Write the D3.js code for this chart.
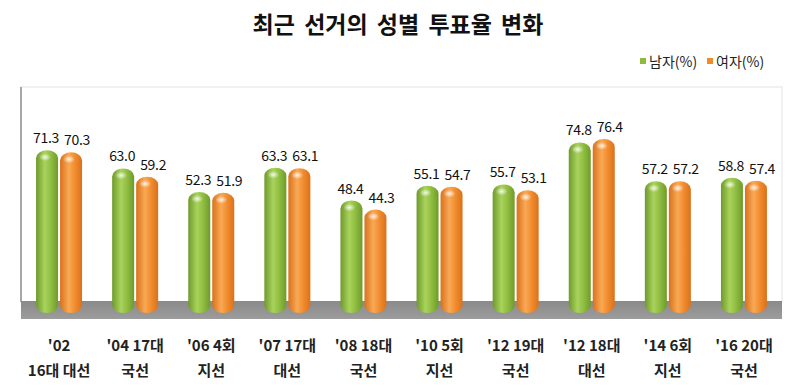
<!DOCTYPE html>
<html>
<head>
<meta charset="utf-8">
<script src="https://cdn.jsdelivr.net/npm/d3@7"></script>
<style>
body { margin: 0; background: #fff; }
svg text { font-family: "Noto Sans CJK KR", "Noto Sans", sans-serif; }
</style>
</head>
<body>
<div class="chart"></div>
<script>
// data
var categories = ["'02", "'04 17대", "'06 4회", "'07 17대", "'08 18대", "'10 5회", "'12 19대", "'12 18대", "'14 6회", "'16 20대"];
var subLabels = ["16대 대선", "국선", "지선", "대선", "국선", "지선", "국선", "대선", "지선", "국선"];
var male = [71.3, 63.0, 52.3, 63.3, 48.4, 55.1, 55.7, 74.8, 57.2, 58.8];
var female = [70.3, 59.2, 51.9, 63.1, 44.3, 54.7, 53.1, 76.4, 57.2, 57.4];
var seriesNames = ["남자(%)", "여자(%)"];

var w = 800;
var h = 389;

var svg = d3.select(".chart")
    .append("svg")
    .attr("width", w)
    .attr("height", h);

var defs = svg.append("defs");

var makeGrad = function(id, dark, mid, light) {
    var g = defs.append("linearGradient")
        .attr("id", id)
        .attr("x1", "0%").attr("x2", "100%")
        .attr("y1", "0%").attr("y2", "0%");
    g.append("stop").attr("offset", "0%").attr("stop-color", dark);
    g.append("stop").attr("offset", "40%").attr("stop-color", light);
    g.append("stop").attr("offset", "70%").attr("stop-color", mid);
    g.append("stop").attr("offset", "100%").attr("stop-color", dark);
};
makeGrad("gGreen", "#6f9a2c", "#8dbb3f", "#a9d35c");
makeGrad("gOrange", "#d9711c", "#f08a2c", "#f9a955");

var floorGrad = defs.append("linearGradient")
    .attr("id", "gFloor")
    .attr("x1", "0%").attr("x2", "0%")
    .attr("y1", "0%").attr("y2", "100%");
floorGrad.append("stop").attr("offset", "0%").attr("stop-color", "#8a8a8a");
floorGrad.append("stop").attr("offset", "100%").attr("stop-color", "#9c9c9c");

var hl = defs.append("radialGradient").attr("id", "gHi");
hl.append("stop").attr("offset", "0%").attr("stop-color", "#ffffff").attr("stop-opacity", 0.85);
hl.append("stop").attr("offset", "100%").attr("stop-color", "#ffffff").attr("stop-opacity", 0);

var x = d3.scaleBand()
    .domain(categories)
    .range([21, 782]);

var y = d3.scaleLinear()
    .domain([0, 100])
    .range([307, 87]);

// plot frame
svg.append("rect")
    .attr("x", 21).attr("y", 87)
    .attr("width", 761).attr("height", 215)
    .attr("fill", "#fff")
    .attr("stroke", "#e4e4e4");
svg.append("line")
    .attr("x1", 21).attr("x2", 21)
    .attr("y1", 87).attr("y2", 302)
    .attr("stroke", "#a8a8a8").attr("stroke-width", 2);

// floor
svg.append("rect")
    .attr("x", 21).attr("y", 301)
    .attr("width", 761).attr("height", 18)
    .attr("fill", "url(#gFloor)");

// title
svg.append("text")
    .attr("x", 398).attr("y", 33)
    .attr("text-anchor", "middle")
    .attr("font-size", 23)
    .attr("font-weight", "bold")
    .attr("word-spacing", 4)
    .attr("fill", "#111")
    .text("최근 선거의 성별 투표율 변화");

// legend
var legendX = [640, 707];
var legendColor = ["#8dbb3f", "#f08a2c"];
seriesNames.forEach(function(name, i) {
    svg.append("rect")
        .attr("x", legendX[i]).attr("y", 58)
        .attr("width", 6).attr("height", 6)
        .attr("fill", legendColor[i]);
    svg.append("text")
        .attr("x", legendX[i] + 9).attr("y", 67)
        .attr("font-size", 14)
        .attr("fill", "#222")
        .text(name);
});

var barW = 22;
var series = [
    { values: male, grad: "url(#gGreen)", dx: -23, lx: -1 },
    { values: female, grad: "url(#gOrange)", dx: 1, lx: 6 }
];

series.forEach(function(s) {
    var g = svg.append("g");
    g.selectAll("rect.bar")
        .data(s.values)
        .enter()
        .append("rect")
        .attr("class", "bar")
        .attr("x", function(d, i) { return x(categories[i]) + x.bandwidth() / 2 + s.dx; })
        .attr("y", function(d) { return y(d); })
        .attr("width", barW)
        .attr("height", function(d) { return y(0) - y(d) + 6; })
        .attr("rx", 11).attr("ry", 8)
        .attr("fill", s.grad);

    g.selectAll("ellipse")
        .data(s.values)
        .enter()
        .append("ellipse")
        .attr("cx", function(d, i) { return x(categories[i]) + x.bandwidth() / 2 + s.dx + 9; })
        .attr("cy", function(d) { return y(d) + 7; })
        .attr("rx", 6).attr("ry", 4)
        .attr("fill", "url(#gHi)");

    g.selectAll("text")
        .data(s.values)
        .enter()
        .append("text")
        .attr("x", function(d, i) { return x(categories[i]) + x.bandwidth() / 2 + s.dx + barW / 2 + s.lx; })
        .attr("y", function(d) { return y(d) - 7; })
        .attr("text-anchor", "middle")
        .attr("font-size", 14)
        .attr("letter-spacing", -0.3)
        .attr("fill", "#111")
        .text(function(d) { return d.toFixed(1); });
});

// category labels
var labels = svg.append("g")
    .attr("font-size", 15)
    .attr("font-weight", "bold")
    .attr("fill", "#222")
    .attr("text-anchor", "middle");

labels.selectAll("text.top")
    .data(categories)
    .enter()
    .append("text")
    .attr("class", "top")
    .attr("x", function(d) { return x(d) + x.bandwidth() / 2; })
    .attr("y", 351)
    .text(function(d) { return d; });

labels.selectAll("text.bottom")
    .data(subLabels)
    .enter()
    .append("text")
    .attr("class", "bottom")
    .attr("x", function(d, i) { return x(categories[i]) + x.bandwidth() / 2; })
    .attr("y", 376)
    .text(function(d) { return d; });
</script>
</body>
</html>
